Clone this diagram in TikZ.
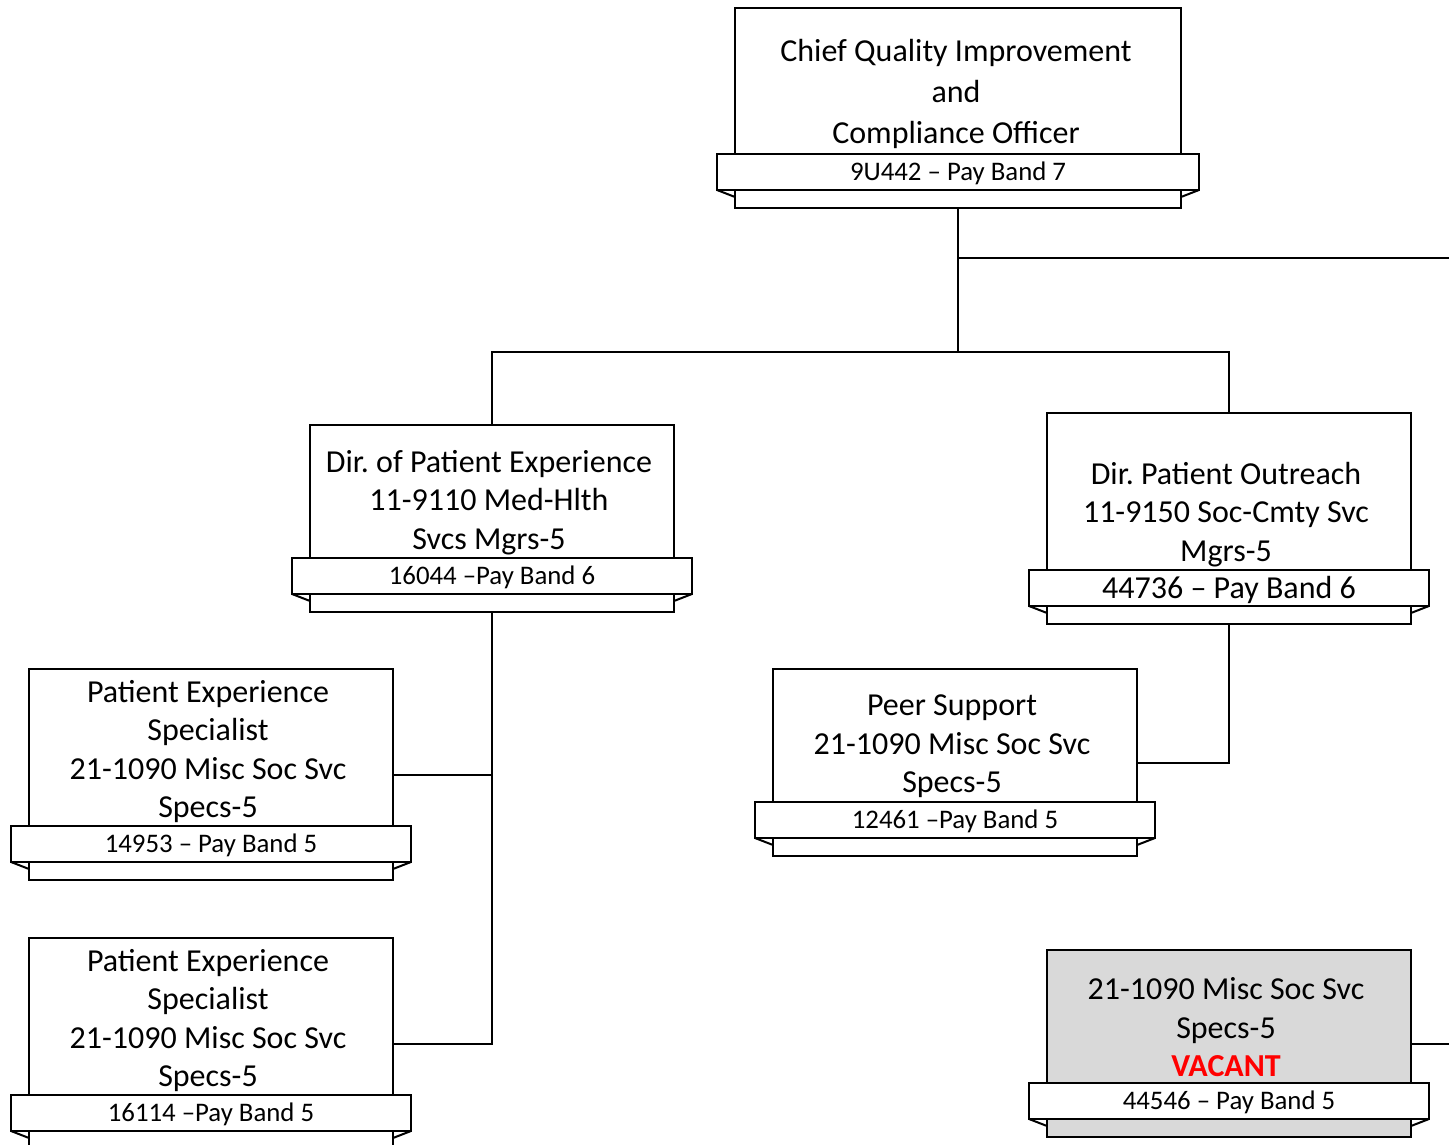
\documentclass[tikz,border=0pt]{standalone}
\usepackage{fontspec}
\setmainfont{Carlito}
\frenchspacing
\definecolor{vacgray}{HTML}{D9D9D9}
\definecolor{vacred}{HTML}{FF0000}
\tikzset{
  box/.style={draw, line width=2pt, inner sep=0pt, outer sep=0pt, anchor=north west},
  ribbon/.style={draw, line width=2pt, fill=white, inner sep=0pt, outer sep=0pt},
  ribbontext/.style={inner sep=0pt, font=\fontsize{26.8}{30}\selectfont},
  boxtext/.style={align=center, font=\fontsize{32}{38.5}\selectfont, inner sep=0pt},
  conn/.style={line width=2pt},
}
\newcommand\orgbox[8]{%
  \pgfmathsetmacro\bw{#4-#2}\pgfmathsetmacro\bh{#5-#3}%
  \pgfmathsetmacro\rw{#4-#2+36}\pgfmathsetmacro\cx{(#2+#4)/2}%
  \node[box, fill=#7, minimum width=\bw pt, minimum height=\bh pt] (#1) at (#2,#3) {};
  \draw[conn] (#2-18,#6+36) -- (#2,#6+43) (#4+18,#6+36) -- (#4,#6+43);
  \node[ribbon, minimum width=\rw pt, minimum height=36pt] (#1-r) at (\cx,#6+18) {};
  \node[ribbontext] (#1-rt) at (\cx,#6+19.5) {#8};
}
\begin{document}
\begin{tikzpicture}[x=1pt,y=-1pt]
\useasboundingbox (0,0) rectangle (1449,1145);
\clip (0,0) rectangle (1449,1145);
\fill[white] (0,0) rectangle (1449,1145);

\coordinate (bus) at (958,352);
\coordinate (rexit) at (1449,258);
\coordinate (vexit) at (1449,1043.5);

\orgbox{top}{735}{8}{1181}{208}{154}{white}{9U442 – Pay Band 7}
\node[boxtext, font=\fontsize{32}{41}\selectfont] (top-t) at (956,94) {Chief Quality Improvement\\and\\Compliance Officer};

\orgbox{pe}{310}{425}{674}{612}{558}{white}{16044 –Pay Band 6}
\node[boxtext] (pe-t) at (489,502.5) {Dir. of Patient Experience\\11-9110 Med-Hlth\\Svcs Mgrs-5};

\orgbox{po}{1047}{413}{1411}{624}{570}{white}{{\fontsize{32}{36}\selectfont 44736 – Pay Band 6}}
\node[boxtext] (po-t) at (1226,514.5) {Dir. Patient Outreach\\11-9150 Soc-Cmty Svc\\Mgrs-5};

\orgbox{pes1}{29}{669}{393}{880}{826}{white}{14953 – Pay Band 5}
\node[boxtext] (pes1-t) at (208,751.5) {Patient Experience\\Specialist\\21-1090 Misc Soc Svc\\Specs-5};

\orgbox{pes2}{29}{938}{393}{1149}{1095}{white}{16114 –Pay Band 5}
\node[boxtext] (pes2-t) at (208,1020.5) {Patient Experience\\Specialist\\21-1090 Misc Soc Svc\\Specs-5};

\orgbox{peer}{773}{669}{1137}{856}{802}{white}{12461 –Pay Band 5}
\node[boxtext] (peer-t) at (952,746.5) {Peer Support\\21-1090 Misc Soc Svc\\Specs-5};

\orgbox{vac}{1047}{950}{1411}{1137}{1083}{vacgray}{44546 – Pay Band 5}
\node[boxtext] (vac-t) at (1226,1027.5) {21-1090 Misc Soc Svc\\Specs-5\\{\color{vacred}\bfseries VACANT}};

\draw[conn] (top.south) -- (bus);
\draw[conn] (pe.north) |- (bus) -| (po.north);
\draw[conn] (top.south |- rexit) -- (rexit);
\draw[conn] (pe.south) |- (pes2.east);
\draw[conn] (pes1.east) -| (pe.south);
\draw[conn] (po.south) |- (peer.east);
\draw[conn] (vac.east) -- (vexit);
\end{tikzpicture}
\end{document}
